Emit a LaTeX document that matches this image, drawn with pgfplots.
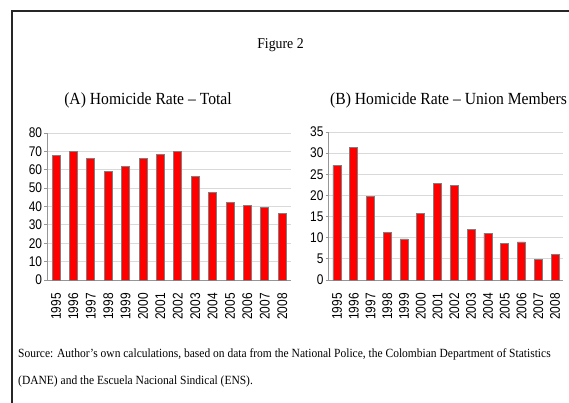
\documentclass[border=0pt]{standalone}
\usepackage{fontspec}
\usepackage{pgfplots}
\pgfplotsset{compat=1.18}
\setmainfont[FakeStretch=0.92]{Liberation Serif}
\newfontfamily\tickfont[FakeStretch=0.85]{Liberation Sans}

\definecolor{barred}{RGB}{255,0,0}
\definecolor{baredge}{RGB}{128,128,128}
\definecolor{gridgray}{RGB}{217,217,217}
\definecolor{axisgray}{RGB}{150,150,150}

\pgfplotsset{
  panel/.style={
    scale only axis,
    ybar,
    bar width=8pt,
    xmin=-0.5, xmax=13.5,
    ymin=0,
    axis x line*=bottom,
    axis y line*=left,
    axis line style={axisgray, line width=0.8pt},
    xtick=data,
    xticklabels={1995,1996,1997,1998,1999,2000,2001,2002,2003,2004,2005,2006,2007,2008},
    x tick label style={rotate=90, anchor=east, font=\fontsize{14}{14}\tickfont, inner sep=2pt},
    xticklabel shift=8pt,
    major x tick style={draw=none},
    y tick label style={font=\fontsize{14}{14}\tickfont, inner sep=2pt},
    /pgf/number format/assume math mode=true,
    tick align=outside,
    major tick length=3pt,
    major y tick style={axisgray, line width=0.8pt},
    ymajorgrids,
    major grid style={gridgray, line width=0.8pt},
  },
  redbar/.style={fill=barred, draw=baredge, line width=0.8pt},
}

\begin{document}
\begin{tikzpicture}[x=1pt,y=1pt]
\useasboundingbox (0,0) rectangle (569,402);

% page frame
\draw[black!85, line width=2.6pt] (12,-5) -- (12,391) -- (575,391);

% headings
\node[font=\fontsize{15}{15}\selectfont] at (280.5,357) {Figure 2};
\node[font=\fontsize{17}{17}\selectfont] at (148,302) {(A)\ Homicide Rate -- Total};
\node[font=\fontsize{17}{17}\selectfont] at (448.5,302) {(B)\ Homicide Rate -- Union Members};

% (A) total homicide rate
\begin{axis}[panel,
  at={(47.3pt,122pt)}, anchor=south west,
  width=243.6pt, height=147pt,
  ymax=80, ytick={0,10,...,80}]
\addplot[redbar] coordinates {
  (0,68.0) (1,70.0) (2,66.0) (3,59.0) (4,61.6) (5,66.0) (6,68.5)
  (7,70.0) (8,56.4) (9,47.6) (10,42.4) (11,40.5) (12,39.3) (13,36.4)};
\end{axis}

% (B) union members homicide rate
\begin{axis}[panel,
  at={(328.6pt,122pt)}, anchor=south west,
  width=234.8pt, height=148pt,
  ymax=35, ytick={0,5,...,35}]
\addplot[redbar] coordinates {
  (0,27.1) (1,31.4) (2,19.8) (3,11.3) (4,9.7) (5,15.8) (6,22.8)
  (7,22.4) (8,12.0) (9,11.1) (10,8.6) (11,9.0) (12,4.8) (13,6.1)};
\end{axis}

% source note
\node[anchor=base west, font=\fontsize{12.5}{12.5}\selectfont, inner sep=0pt] at (18,45)
  {Source: Author's own calculations, based on data from the National Police, the Colombian Department of Statistics};
\node[anchor=base west, font=\fontsize{12.5}{12.5}\selectfont, inner sep=0pt] at (18,18)
  {(DANE) and the Escuela Nacional Sindical (ENS).};
\end{tikzpicture}
\end{document}
